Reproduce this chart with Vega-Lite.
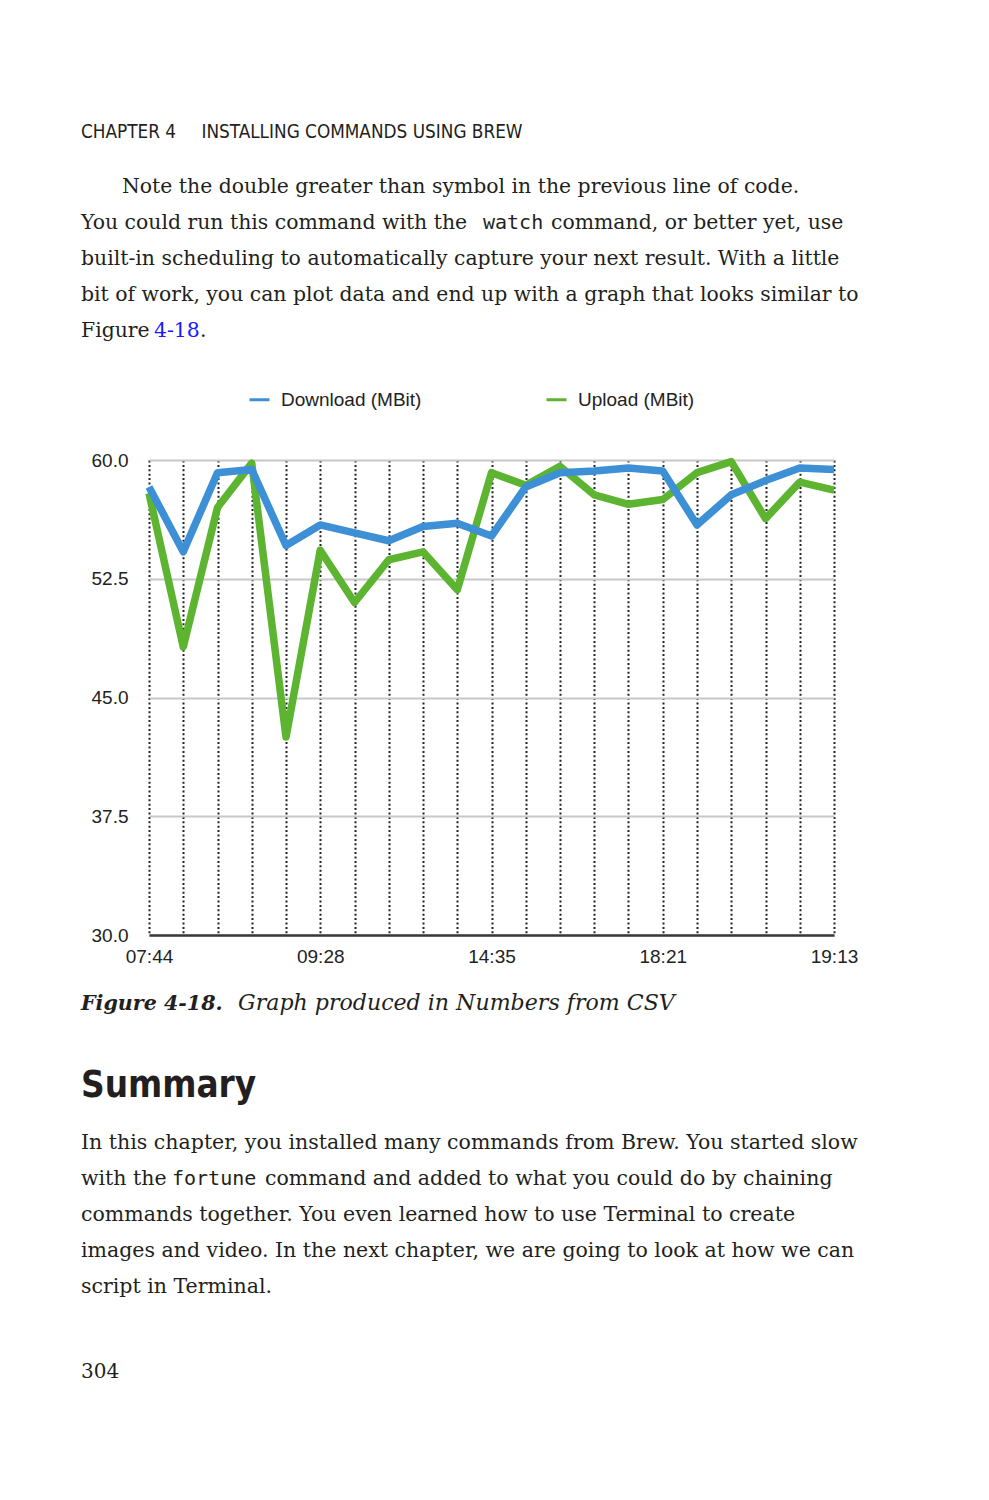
{
  "$schema": "https://vega.github.io/schema/vega-lite/v6.json",
  "background": "white",
  "padding": {"left": 81, "top": 102, "right": 40, "bottom": 100},
  "autosize": {"type": "pad"},
  "bounds": "flush",
  "spacing": 0,
  "config": {
    "view": {"stroke": null},
    "text": {"color": "#231f20", "align": "left", "baseline": "alphabetic"}
  },
  "vconcat": [
    {
      "width": 685, "height": 73,
      "data": {"values": [{"line": 1, "text": "CHAPTER 4\u2003\u2002INSTALLING COMMANDS USING BREW"}]},
      "mark": {"type": "text", "font": "Liberation Sans Narrow, DejaVu Sans Condensed, sans-serif", "fontSize": 18.8, "dx": -68},
      "encoding": {
        "x": {"value": 0},
        "y": {"field": "line", "type": "quantitative", "axis": null, "scale": {"domain": [0, 2.0278], "reverse": true, "nice": false, "zero": false}},
        "text": {"field": "text"}
      }
    },
    {
      "width": 685, "height": 285,
      "data": {"values": [
        {"line": 1, "part": "indent", "text": "Note the double greater than symbol in the previous line of code."},
        {"line": 2, "part": "body", "text": "You could run this command with the"},
        {"line": 2, "part": "code", "text": "watch"},
        {"line": 2, "part": "after", "text": "command, or better yet, use"},
        {"line": 3, "part": "body", "text": "built-in scheduling to automatically capture your next result. With a little"},
        {"line": 4, "part": "body", "text": "bit of work, you can plot data and end up with a graph that looks similar to"},
        {"line": 5, "part": "body", "text": "Figure"},
        {"line": 5, "part": "link", "text": "4-18"},
        {"line": 5, "part": "period", "text": "."}
      ]},
      "encoding": {
        "x": {"value": 0},
        "y": {"field": "line", "type": "quantitative", "axis": null, "scale": {"domain": [0.5, 8.4167], "reverse": true, "nice": false, "zero": false}},
        "text": {"field": "text"}
      },
      "layer": [
        {"transform": [{"filter": "datum.part == 'indent'"}], "mark": {"type": "text", "font": "DejaVu Serif", "fontSize": 20.4, "dx": -27}},
        {"transform": [{"filter": "datum.part == 'body'"}], "mark": {"type": "text", "font": "DejaVu Serif", "fontSize": 20.4, "dx": -68}},
        {"transform": [{"filter": "datum.part == 'code'"}], "mark": {"type": "text", "font": "DejaVu Sans Mono", "fontSize": 20, "dx": 334}},
        {"transform": [{"filter": "datum.part == 'after'"}], "mark": {"type": "text", "font": "DejaVu Serif", "fontSize": 20.4, "dx": 402}},
        {"transform": [{"filter": "datum.part == 'link'"}], "mark": {"type": "text", "font": "DejaVu Serif", "fontSize": 20.4, "dx": 5, "color": "#1a1aff"}},
        {"transform": [{"filter": "datum.part == 'period'"}], "mark": {"type": "text", "font": "DejaVu Serif", "fontSize": 20.4, "dx": 51}}
      ]
    },
    {
      "width": 685, "height": 475,
      "data": {"values": [
        {"i": 0, "series": "Download (MBit)", "value": 58.3}, {"i": 0, "series": "Upload (MBit)", "value": 57.9},
        {"i": 1, "series": "Download (MBit)", "value": 54.2}, {"i": 1, "series": "Upload (MBit)", "value": 48.2},
        {"i": 2, "series": "Download (MBit)", "value": 59.2}, {"i": 2, "series": "Upload (MBit)", "value": 57.0},
        {"i": 3, "series": "Download (MBit)", "value": 59.4}, {"i": 3, "series": "Upload (MBit)", "value": 59.8},
        {"i": 4, "series": "Download (MBit)", "value": 54.6}, {"i": 4, "series": "Upload (MBit)", "value": 42.5},
        {"i": 5, "series": "Download (MBit)", "value": 55.9}, {"i": 5, "series": "Upload (MBit)", "value": 54.3},
        {"i": 6, "series": "Download (MBit)", "value": 55.4}, {"i": 6, "series": "Upload (MBit)", "value": 51.0},
        {"i": 7, "series": "Download (MBit)", "value": 54.9}, {"i": 7, "series": "Upload (MBit)", "value": 53.7},
        {"i": 8, "series": "Download (MBit)", "value": 55.8}, {"i": 8, "series": "Upload (MBit)", "value": 54.2},
        {"i": 9, "series": "Download (MBit)", "value": 56.0}, {"i": 9, "series": "Upload (MBit)", "value": 51.8},
        {"i": 10, "series": "Download (MBit)", "value": 55.2}, {"i": 10, "series": "Upload (MBit)", "value": 59.2},
        {"i": 11, "series": "Download (MBit)", "value": 58.3}, {"i": 11, "series": "Upload (MBit)", "value": 58.4},
        {"i": 12, "series": "Download (MBit)", "value": 59.2}, {"i": 12, "series": "Upload (MBit)", "value": 59.6},
        {"i": 13, "series": "Download (MBit)", "value": 59.3}, {"i": 13, "series": "Upload (MBit)", "value": 57.8},
        {"i": 14, "series": "Download (MBit)", "value": 59.5}, {"i": 14, "series": "Upload (MBit)", "value": 57.2},
        {"i": 15, "series": "Download (MBit)", "value": 59.3}, {"i": 15, "series": "Upload (MBit)", "value": 57.5},
        {"i": 16, "series": "Download (MBit)", "value": 55.9}, {"i": 16, "series": "Upload (MBit)", "value": 59.2},
        {"i": 17, "series": "Download (MBit)", "value": 57.8}, {"i": 17, "series": "Upload (MBit)", "value": 59.9},
        {"i": 18, "series": "Download (MBit)", "value": 58.7}, {"i": 18, "series": "Upload (MBit)", "value": 56.3},
        {"i": 19, "series": "Download (MBit)", "value": 59.5}, {"i": 19, "series": "Upload (MBit)", "value": 58.6},
        {"i": 20, "series": "Download (MBit)", "value": 59.4}, {"i": 20, "series": "Upload (MBit)", "value": 58.1}
      ]},
      "encoding": {
        "x": {
          "field": "i", "type": "quantitative",
          "scale": {"domain": [0, 20], "nice": false, "zero": false},
          "axis": {
            "title": null,
            "values": [0, 1, 2, 3, 4, 5, 6, 7, 8, 9, 10, 11, 12, 13, 14, 15, 16, 17, 18, 19, 20],
            "labelExpr": "datum.value == 0 ? '07:44' : datum.value == 5 ? '09:28' : datum.value == 10 ? '14:35' : datum.value == 15 ? '18:21' : datum.value == 20 ? '19:13' : ''",
            "grid": true, "gridColor": "#222222", "gridDash": [2, 2.4], "gridWidth": 2,
            "ticks": false, "domain": true, "domainColor": "#3a3a3a", "domainWidth": 2.5,
            "labelFont": "Liberation Sans", "labelFontSize": 19, "labelColor": "#222222",
            "labelPadding": 12, "labelFlush": false, "labelOverlap": false
          }
        },
        "y": {
          "field": "value", "type": "quantitative",
          "scale": {"domain": [30, 60], "nice": false, "zero": false},
          "axis": {
            "title": null,
            "values": [30, 37.5, 45, 52.5, 60],
            "format": ".1f",
            "grid": true, "gridColor": "#c8c8c8", "gridWidth": 2,
            "ticks": false, "domain": false,
            "labelFont": "Liberation Sans", "labelFontSize": 19, "labelColor": "#222222",
            "labelPadding": 21
          }
        },
        "color": {
          "field": "series", "type": "nominal",
          "scale": {"domain": ["Download (MBit)", "Upload (MBit)"], "range": ["#3d8fd6", "#5cb431"]},
          "legend": {
            "orient": "none", "legendX": 99, "legendY": 286, "direction": "horizontal",
            "title": null, "symbolType": "stroke", "symbolSize": 400, "symbolStrokeWidth": 3,
            "labelFont": "Liberation Sans", "labelFontSize": 19, "labelColor": "#222222",
            "labelOffset": 10, "columnPadding": 118, "padding": 0
          }
        }
      },
      "layer": [
        {"transform": [{"filter": "datum.series == 'Upload (MBit)'"}], "mark": {"type": "line", "strokeWidth": 7.5, "strokeJoin": "round"}},
        {"transform": [{"filter": "datum.series == 'Download (MBit)'"}], "mark": {"type": "line", "strokeWidth": 7.5, "strokeJoin": "round"}}
      ]
    },
    {
      "width": 685, "height": 105,
      "data": {"values": [
        {"line": 1, "part": "label", "text": "Figure 4-18."},
        {"line": 1, "part": "title", "text": "Graph produced in Numbers from CSV"}
      ]},
      "encoding": {
        "x": {"value": 0},
        "y": {"field": "line", "type": "quantitative", "axis": null, "scale": {"domain": [0, 1.4], "reverse": true, "nice": false, "zero": false}},
        "text": {"field": "text"}
      },
      "layer": [
        {"transform": [{"filter": "datum.part == 'label'"}], "mark": {"type": "text", "font": "DejaVu Serif", "fontSize": 20.6, "fontStyle": "italic", "fontWeight": "bold", "dx": -68}},
        {"transform": [{"filter": "datum.part == 'title'"}], "mark": {"type": "text", "font": "DejaVu Serif", "fontSize": 22.1, "fontStyle": "italic", "dx": 89}}
      ]
    },
    {
      "width": 685, "height": 91,
      "data": {"values": [{"line": 1, "text": "Summary"}]},
      "mark": {"type": "text", "font": "Liberation Sans Narrow, DejaVu Sans Condensed, sans-serif", "fontSize": 36.5, "fontWeight": "bold", "dx": -68},
      "encoding": {
        "x": {"value": 0},
        "y": {"field": "line", "type": "quantitative", "axis": null, "scale": {"domain": [0, 1.5965], "reverse": true, "nice": false, "zero": false}},
        "text": {"field": "text"}
      }
    },
    {
      "width": 685, "height": 180,
      "data": {"values": [
        {"line": 1, "part": "body", "text": "In this chapter, you installed many commands from Brew. You started slow"},
        {"line": 2, "part": "body", "text": "with the"},
        {"line": 2, "part": "code", "text": "fortune"},
        {"line": 2, "part": "after", "text": "command and added to what you could do by chaining"},
        {"line": 3, "part": "body", "text": "commands together. You even learned how to use Terminal to create"},
        {"line": 4, "part": "body", "text": "images and video. In the next chapter, we are going to look at how we can"},
        {"line": 5, "part": "body", "text": "script in Terminal."}
      ]},
      "encoding": {
        "x": {"value": 0},
        "y": {"field": "line", "type": "quantitative", "axis": null, "scale": {"domain": [0.5, 5.5], "reverse": true, "nice": false, "zero": false}},
        "text": {"field": "text"}
      },
      "layer": [
        {"transform": [{"filter": "datum.part == 'body'"}], "mark": {"type": "text", "font": "DejaVu Serif", "fontSize": 20.5, "dx": -68}},
        {"transform": [{"filter": "datum.part == 'code'"}], "mark": {"type": "text", "font": "DejaVu Sans Mono", "fontSize": 20, "dx": 23}},
        {"transform": [{"filter": "datum.part == 'after'"}], "mark": {"type": "text", "font": "DejaVu Serif", "fontSize": 20.5, "dx": 116}}
      ]
    },
    {
      "width": 685, "height": 89,
      "data": {"values": [{"line": 1, "text": "304"}]},
      "mark": {"type": "text", "font": "DejaVu Serif", "fontSize": 20, "dx": -68},
      "encoding": {
        "x": {"value": 0},
        "y": {"field": "line", "type": "quantitative", "axis": null, "scale": {"domain": [0, 1.3284], "reverse": true, "nice": false, "zero": false}},
        "text": {"field": "text"}
      }
    }
  ]
}
